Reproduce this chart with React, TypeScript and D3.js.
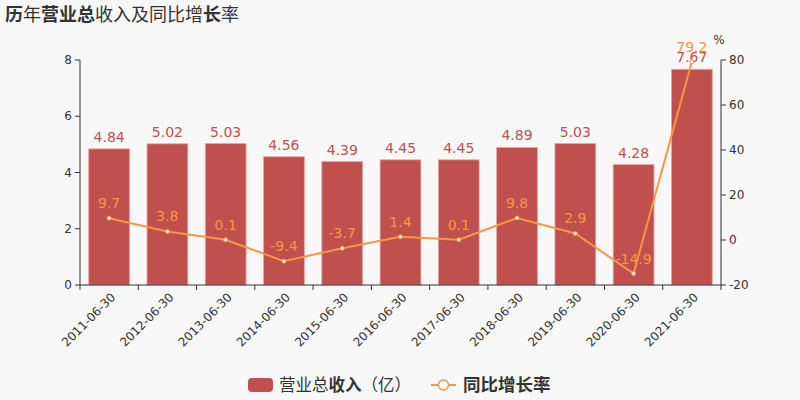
import React from "react";
import * as d3 from "d3";

const categories = ["2011-06-30","2012-06-30","2013-06-30","2014-06-30","2015-06-30","2016-06-30","2017-06-30","2018-06-30","2019-06-30","2020-06-30","2021-06-30"];
const revenue = [4.84,5.02,5.03,4.56,4.39,4.45,4.45,4.89,5.03,4.28,7.67];
const growth = [9.7,3.8,0.1,-9.4,-3.7,1.4,0.1,9.8,2.9,-14.9,79.2];
const leftTicks = [0,2,4,6,8];
const rightTicks = [-20,0,20,40,60,80];

const W = 800, H = 400;
const L = 80, R = 721, T = 60, B = 285;
const BAR = "#c0504d";
const LINE = "#f79646";
const FONT = "'DejaVu Sans', 'Noto Sans CJK SC', sans-serif";
const CJK = "'Noto Sans CJK SC', sans-serif";

export default function App() {
  const x = d3.scaleBand<string>().domain(categories).range([L, R]).paddingInner(0.3).paddingOuter(0.15);
  const xc = (c: string) => (x(c) as number) + x.bandwidth() / 2;
  const step = (R - L) / categories.length;
  const yL = d3.scaleLinear().domain([0, 8]).range([B, T]);
  const yR = d3.scaleLinear().domain([-20, 80]).range([B, T]);
  const line = d3.line<number>().x((_, i) => xc(categories[i])).y(d => yR(d));

  return (
    <svg width={W} height={H} style={{ display: "block", position: "absolute", left: 0, top: 0 }}>
      <rect width={W} height={H} fill="#f8f8f8" />
      <text x={5} y={21} fontFamily={CJK} fontSize={18} fill="#333">
        <tspan fontWeight="bold">历</tspan><tspan>年</tspan><tspan fontWeight="bold">营业总</tspan><tspan>收入及同比增</tspan><tspan fontWeight="bold">长</tspan><tspan>率</tspan>
      </text>

      {/* bars */}
      {categories.map((c, i) => (
        <rect key={c} x={x(c)} y={yL(revenue[i])} width={x.bandwidth()} height={B - yL(revenue[i])}
          fill={BAR} stroke="#e6a5a3" strokeWidth={0.8} />
      ))}

      {/* left axis */}
      <line x1={L} x2={L} y1={T} y2={B} stroke="#333" />
      {leftTicks.map(t => (
        <g key={t}>
          <line x1={L - 5} x2={L} y1={yL(t)} y2={yL(t)} stroke="#333" />
          <text x={L - 8} y={yL(t)} dy="0.35em" textAnchor="end" fontFamily={FONT} fontSize={12} fill="#333">{t}</text>
        </g>
      ))}
      {/* right axis */}
      <line x1={R} x2={R} y1={T} y2={B} stroke="#333" />
      {rightTicks.map(t => (
        <g key={t}>
          <line x1={R} x2={R + 5} y1={yR(t)} y2={yR(t)} stroke="#333" />
          <text x={R + 8} y={yR(t)} dy="0.35em" textAnchor="start" fontFamily={FONT} fontSize={12} fill="#333">{t}</text>
        </g>
      ))}
      <text x={719} y={44} fontFamily={FONT} fontSize={12} fill="#333" textAnchor="middle">%</text>

      {/* x axis */}
      <line x1={L} x2={R} y1={B} y2={B} stroke="#333" />
      {d3.range(categories.length + 1).map(i => (
        <line key={i} x1={L + i * step} x2={L + i * step} y1={B} y2={B + 5} stroke="#333" />
      ))}
      {categories.map(c => (
        <text key={c} transform={`translate(${xc(c) + 4},${B + 10}) rotate(-45)`} textAnchor="end" dy="0.35em"
          fontFamily={FONT} fontSize={12} fill="#333">{c}</text>
      ))}

      {/* bar labels */}
      {categories.map((c, i) => (
        <text key={c} x={xc(c)} y={yL(revenue[i]) - 7} textAnchor="middle" fontFamily={FONT} fontSize={14} fill={BAR}>{revenue[i].toFixed(2)}</text>
      ))}

      {/* line */}
      <path d={line(growth) || ""} fill="none" stroke={LINE} strokeWidth={2} />
      {categories.map((c, i) => (
        <circle key={c} cx={xc(c)} cy={yR(growth[i])} r={2} fill="#fff" stroke={LINE} strokeWidth={1} />
      ))}
      {categories.map((c, i) => (
        <text key={c} x={xc(c)} y={yR(growth[i]) - 10} textAnchor="middle" fontFamily={FONT} fontSize={14} fill={LINE}>{growth[i].toFixed(1)}</text>
      ))}

      {/* legend */}
      <rect x={248} y={378} width={25} height={14} rx={4} fill={BAR} />
      <text x={279} y={391} fontFamily={CJK} fontSize={16.5} fill="#333">
        <tspan>营业总</tspan><tspan fontWeight="bold">收入</tspan><tspan>（亿）</tspan>
      </text>
      <line x1={431} x2={456} y1={385} y2={385} stroke={LINE} strokeWidth={2} />
      <circle cx={443.5} cy={385} r={5} fill="#fff" stroke={LINE} strokeWidth={1.5} />
      <text x={463} y={391} fontFamily={CJK} fontSize={17.5} fontWeight="bold" fill="#333">同比增长率</text>
    </svg>
  );
}
